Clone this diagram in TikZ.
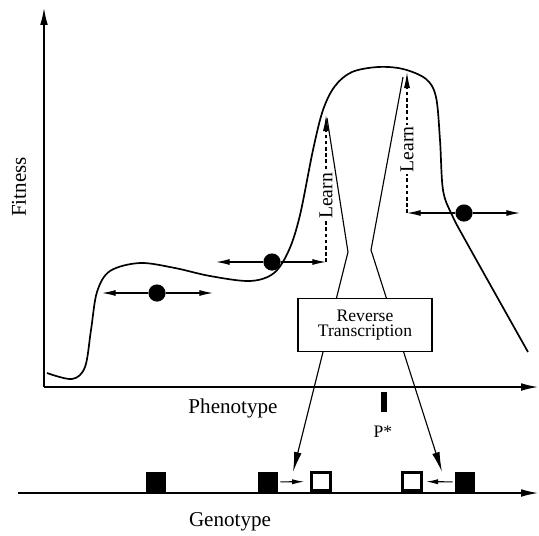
\documentclass[tikz,border=0pt]{standalone}
\usepackage{fontspec}
\setmainfont{Liberation Serif}
\usetikzlibrary{positioning,arrows.meta}
\tikzset{
  axis/.style={-{Latex[length=4.2mm,width=1.9mm]},line width=0.9pt},
  curve/.style={line width=1.2pt},
  move/.style={-{Latex[length=3.4mm,width=1.5mm]},line width=0.8pt},
  learnflow/.style={-{Latex[length=4mm,width=1.5mm]},dash pattern=on 2.6pt off 1.8pt,line width=0.8pt},
  rtflow/.style={-{Latex[length=5mm,width=1.9mm]},line width=0.8pt},
  stepflow/.style={-{Latex[length=3mm,width=1.3mm]},line width=0.8pt},
  ball/.style={circle,fill=black,inner sep=0pt,minimum size=0.43cm},
  gene/.style={fill=black,inner sep=0pt,minimum size=0.5cm},
  newgene/.style={draw=black,line width=2.4pt,fill=white,inner sep=0pt,minimum size=0.46cm},
  rtbox/.style={draw,fill=white,line width=0.8pt,minimum width=3.35cm,minimum height=1.32cm,
    align=center,font=\fontsize{12.5}{11}\selectfont},
  learnlabel/.style={fill=white,inner sep=1pt,rotate=90,font=\fontsize{14}{15}\selectfont},
  axislabel/.style={font=\fontsize{15}{17}\selectfont}
}
\begin{document}
\begin{tikzpicture}[x=0.025cm,y=-0.025cm]
  \useasboundingbox (0,0) rectangle (539,535);
  % axes
  \coordinate (origin) at (44,387);
  \coordinate (fittop) at (44,8);
  \coordinate (phenoend) at (538,387);
  \coordinate (genostart) at (18,493);
  \coordinate (genoend) at (538,493);
  \draw[axis] (origin) -- (fittop);
  \draw[axis] (origin) -- (phenoend);
  \draw[axis] (genostart) -- (genoend);
  \node[axislabel,rotate=90] (fitness) at (19,187) {Fitness};
  \node[axislabel] (pheno) at (233,408) {Phenotype};
  \node[axislabel] (geno) at (230,522) {Genotype};
  \node[fill=black,inner sep=0pt,minimum width=0.13cm,minimum height=0.52cm] (optimum) at (384,402) {};
  \node[font=\fontsize{12.5}{14}\selectfont] (pstar) at (383,432) {P*};
  % fitness landscape
  \draw[curve] plot[smooth,tension=0.55] coordinates {(47,373) (72,379) (85,367) (91,330)
    (97,292) (110,271) (140,263) (175,268) (210,276) (250,281) (274,273) (289,250)
    (300,215) (313,150) (323,110) (335,86) (352,72) (378,67) (403,69) (426,79) (436,97)
    (440,140) (443,190) (452,215) (468,245) (528,352)};
  % individuals
  \coordinate (b1l) at (102,293);
  \coordinate (b1r) at (213,293);
  \coordinate (b2l) at (216,262);
  \coordinate (b2r) at (326,262);
  \coordinate (b3l) at (407,213);
  \coordinate (b3r) at (520,213);
  \node[ball] (b1) at (157,293) {};
  \node[ball] (b2) at (272,262) {};
  \node[ball] (b3) at (464,213) {};
  \draw[move] (b1) -- (b1l);
  \draw[move] (b1) -- (b1r);
  \draw[move] (b2) -- (b2l);
  \draw[move] (b2) -- (b2r);
  \draw[move] (b3) -- (b3l);
  \draw[move] (b3) -- (b3r);
  % learning
  \coordinate (learn1) at (326,115);
  \coordinate (learn2) at (407,72);
  \draw[learnflow] (b2r) -- node[learnlabel,pos=0.45] {Learn} (learn1);
  \draw[learnflow] (b3l) -- node[learnlabel,pos=0.45] {Learn} (learn2);
  % reverse transcription
  \coordinate (rt1top) at (327,118);
  \coordinate (rt1kink) at (348,252);
  \coordinate (rt1end) at (293,472);
  \coordinate (rt2top) at (403,77);
  \coordinate (rt2kink) at (371,250);
  \coordinate (rt2end) at (442,472);
  \draw[rtflow] (rt1top) -- (rt1kink) -- (rt1end);
  \draw[rtflow] (rt2top) -- (rt2kink) -- (rt2end);
  \node[rtbox] (rt) at (365,325) {Reverse\\Transcription};
  % genotypes
  \node[gene] (g1) at (156,482) {};
  \node[gene] (g2) at (268,482) {};
  \node[newgene] (n1) at (321,481.5) {};
  \node[newgene] (n2) at (412,481.5) {};
  \node[gene] (g3) at (465,482) {};
  \draw[stepflow,shorten <=0.5mm,shorten >=1.5mm] (g2) -- (n1);
  \draw[stepflow,shorten <=0.5mm,shorten >=0.8mm] (g3) -- (n2);
\end{tikzpicture}
\end{document}
